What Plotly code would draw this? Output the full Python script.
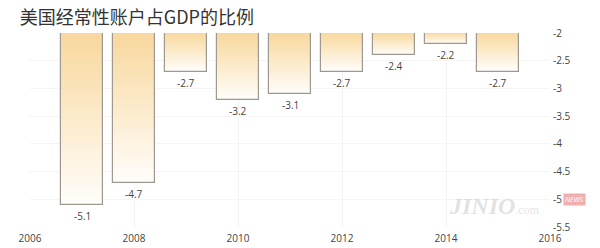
import plotly.graph_objects as go

# Data
years = [2007, 2008, 2009, 2010, 2011, 2012, 2013, 2014, 2015]
values = [-5.1, -4.7, -2.7, -3.2, -3.1, -2.7, -2.4, -2.2, -2.7]
labels = ["-5.1", "-4.7", "-2.7", "-3.2", "-3.1", "-2.7", "-2.4", "-2.2", "-2.7"]
title_text = "美国经常性账户占GDP的比例"
x_ticks = [2006, 2008, 2010, 2012, 2014, 2016]
y_ticks = [-2, -2.5, -3, -3.5, -4, -4.5, -5, -5.5]
y_ticklabels = ["-2", "-2.5", "-3", "-3.5", "-4", "-4.5", "-5", "-5.5"]

BASE = -2
BAR_W = 0.79
N = 30
top_rgb = (248, 216, 158)
bot_rgb = (255, 253, 249)

fig = go.Figure()

# gradient fill via stacked slices
for k in range(N):
    t = k / (N - 1)
    c = tuple(round(top_rgb[i] + (bot_rgb[i] - top_rgb[i]) * t) for i in range(3))
    col = "rgb(%d,%d,%d)" % c
    bases = [BASE + (v - BASE) * k / N for v in values]
    hts = [(v - BASE) / N * 1.02 for v in values]
    fig.add_trace(go.Bar(x=years, y=hts, base=bases, width=BAR_W,
                         marker=dict(color=col, line=dict(width=0)),
                         showlegend=False, hoverinfo="skip"))

# outline
fig.add_trace(go.Bar(x=years, y=[v - BASE for v in values], base=[BASE] * len(values),
                     width=BAR_W,
                     marker=dict(color="rgba(0,0,0,0)", line=dict(color="#9e9890", width=1.2)),
                     showlegend=False))

# value labels below bars
annotations = [
    dict(x=x, y=v, text=t, xref="x", yref="y", showarrow=False, yanchor="top", yshift=-2,
         font=dict(size=10, color="#444", family="Open Sans"))
    for x, v, t in zip(years, values, labels)
]

annotations += [
    dict(text="<i><b>JINIO</b></i><span style='font-size:12px'>.com</span>",
         xref="paper", yref="paper", x=0.985, y=0.11, xanchor="right", yanchor="middle",
         showarrow=False, font=dict(size=24, color="rgba(190,190,190,0.45)", family="Liberation Serif")),
    dict(text="<i>NEWS</i>", xref="paper", yref="paper", x=1.025, y=0.14,
         xanchor="left", yanchor="middle", showarrow=False, bgcolor="rgba(230,120,120,0.6)",
         font=dict(size=7, color="white")),
]

fig.update_layout(
    width=600, height=248,
    margin=dict(l=30, r=50, t=33, b=21),
    paper_bgcolor="white", plot_bgcolor="white",
    barmode="overlay", bargap=0,
    title=dict(text=title_text, x=0.033, xanchor="left", y=0.93, yanchor="middle",
               font=dict(size=18, color="#333", family="Noto Sans CJK SC")),
    xaxis=dict(range=[2006, 2016], tickvals=x_ticks, ticktext=[str(v) for v in x_ticks],
               showgrid=True, gridcolor="#f3f3f3", zeroline=False, showline=False,
               tickfont=dict(size=10, color="#444", family="Open Sans"), ticks="",
               ticklabelstandoff=4, automargin=False),
    yaxis=dict(range=[-5.5, -2], side="right", tickvals=y_ticks, ticktext=y_ticklabels,
               showgrid=True, gridcolor="#f5f5f5", zeroline=False, showline=False,
               tickfont=dict(size=10, color="#444", family="Open Sans"), ticks="",
               ticklabelstandoff=2, automargin=False),
    annotations=annotations,
)

fig.write_html("out.html")
